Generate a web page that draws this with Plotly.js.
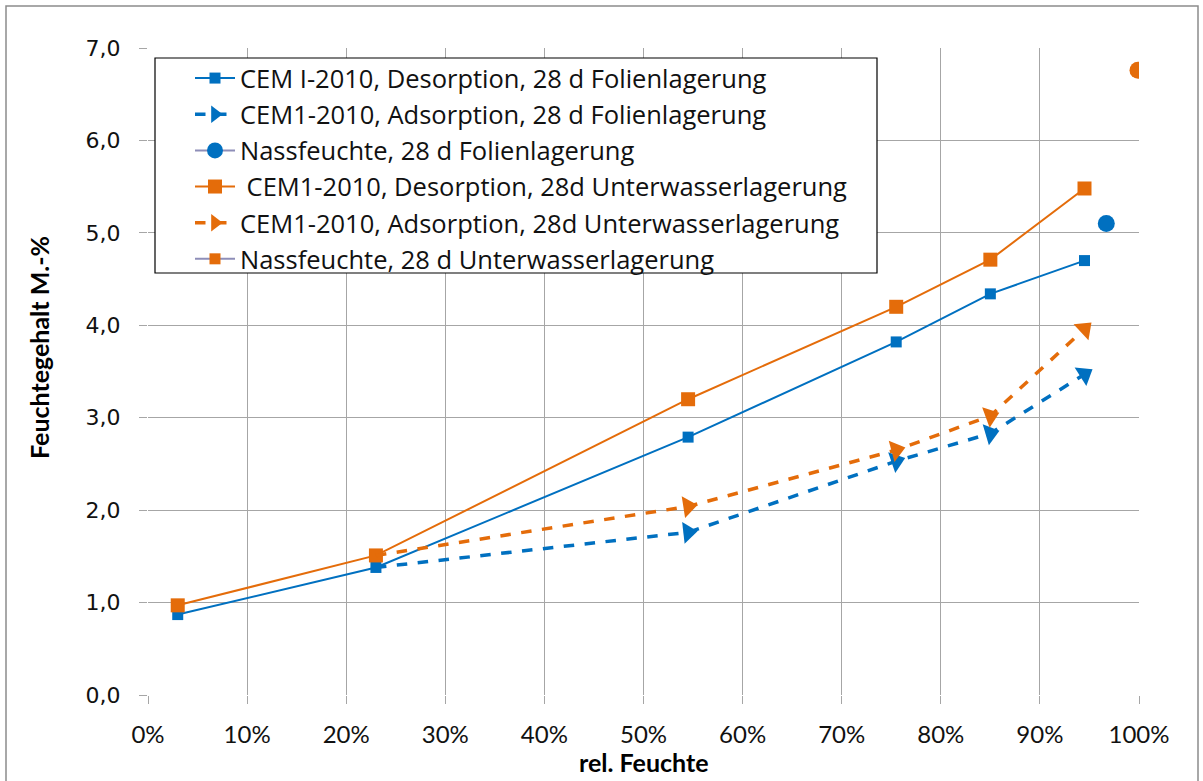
<!DOCTYPE html>
<html>
<head>
<meta charset="utf-8">
<script src="https://cdn.plot.ly/plotly-3.0.1.min.js"></script>
<style>
  html, body { margin: 0; padding: 0; background: #ffffff; }
  #chart { width: 1203px; height: 781px; }
</style>
</head>
<body>
<div id="chart"></div>
<script>
// ---- Data ----
const relHumDes = [0.03, 0.23, 0.545, 0.755, 0.85, 0.945];
const relHumAds = [0.23, 0.545, 0.755, 0.85, 0.945];

const folieDesorption = [0.87, 1.38, 2.79, 3.82, 4.34, 4.70];
const folieAdsorption = [1.38, 1.76, 2.53, 2.83, 3.47];
const wasserDesorption = [0.97, 1.51, 3.20, 4.20, 4.71, 5.48];
const wasserAdsorption = [1.51, 2.04, 2.65, 3.02, 3.96];

const nassFolieX = [0.967];
const nassFolieY = [5.10];
const nassWasserX = [0.999];
const nassWasserY = [6.76];

const seriesNames = [
  "CEM I-2010, Desorption, 28 d Folienlagerung",
  "CEM1-2010, Adsorption, 28 d Folienlagerung",
  "Nassfeuchte, 28 d Folienlagerung",
  " CEM1-2010, Desorption, 28d Unterwasserlagerung",
  "CEM1-2010, Adsorption, 28d Unterwasserlagerung",
  "Nassfeuchte, 28 d Unterwasserlagerung"
];

const yTicks = [0, 1, 2, 3, 4, 5, 6, 7];
const xTicks = [0, 0.1, 0.2, 0.3, 0.4, 0.5, 0.6, 0.7, 0.8, 0.9, 1.0];
const xTitle = "rel. Feuchte";
const yTitle = "Feuchtegehalt M.-%";

// ---- Styles ----
const BLUE = "#0070C0";
const ORANGE = "#E46C0A";
const GRAYLINE = "#8E8EB8";
const FONT = "Lato, 'Open Sans', sans-serif";
const LEGFONT = "'Open Sans', Lato, sans-serif";

const arrowSizes = n => Array.from({length: n}, (_, i) => i === 0 ? 0 : 19);

const traces = [
  {
    name: seriesNames[0], x: relHumDes, y: folieDesorption, type: "scatter", mode: "lines+markers",
    line: {color: BLUE, width: 2}, marker: {symbol: "square", size: 11, color: BLUE},
    legendgroup: "a"
  },
  {
    name: seriesNames[1], x: relHumAds, y: folieAdsorption, type: "scatter", mode: "lines+markers",
    line: {color: BLUE, width: 3.5, dash: "dash"},
    marker: {symbol: "triangle-up", size: arrowSizes(relHumAds.length), color: BLUE,
             opacity: 1, line: {width: 0}, angleref: "previous"},
    legendgroup: "b"
  },
  {
    name: seriesNames[2], x: nassFolieX, y: nassFolieY, type: "scatter", mode: "lines+markers",
    line: {color: GRAYLINE, width: 2}, marker: {symbol: "circle", size: 17, color: BLUE},
    legendgroup: "c"
  },
  {
    name: seriesNames[3], x: relHumDes, y: wasserDesorption, type: "scatter", mode: "lines+markers",
    line: {color: ORANGE, width: 2}, marker: {symbol: "square", size: 14, color: ORANGE},
    legendgroup: "d"
  },
  {
    name: seriesNames[4], x: relHumAds, y: wasserAdsorption, type: "scatter", mode: "lines+markers",
    line: {color: ORANGE, width: 3.5, dash: "dash"},
    marker: {symbol: "triangle-up", size: arrowSizes(relHumAds.length), color: ORANGE,
             opacity: 1, line: {width: 0}, angleref: "previous"},
    legendgroup: "e"
  },
  {
    // legend entry only (square marker as in the reference legend)
    name: seriesNames[5], x: [null], y: [null], type: "scatter", mode: "lines+markers",
    line: {color: GRAYLINE, width: 2}, marker: {symbol: "square", size: 11, color: ORANGE},
    legendgroup: "f"
  },
  {
    name: seriesNames[5], x: nassWasserX, y: nassWasserY, type: "scatter", mode: "markers",
    marker: {symbol: "circle", size: 17, color: ORANGE}, showlegend: false,
    legendgroup: "f"
  }
];

// pixel helpers for paper coordinates (plot area 148..1139 x 48..695)
const PL = 148, PR = 1139, PT = 48, PB = 695;
const px = v => (v - PL) / (PR - PL);
const py = v => (PB - v) / (PB - PT);

const layout = {
  width: 1203, height: 781,
  margin: {l: PL, r: 1203 - PR, t: PT, b: 781 - PB, pad: 0},
  paper_bgcolor: "#ffffff", plot_bgcolor: "#ffffff",
  separators: ",.",
  showlegend: true,
  font: {family: FONT, color: "#000000"},
  xaxis: {
    range: [0, 1], tickvals: xTicks, tickformat: ".0%",
    showgrid: true, gridcolor: "#A6A6A6", gridwidth: 1,
    zeroline: false, showline: false,
    ticks: "outside", ticklen: 8, tickcolor: "#A6A6A6",
    ticklabelstandoff: 10,
    tickfont: {family: FONT, size: 24, color: "#111111"},
    fixedrange: true
  },
  yaxis: {
    range: [0, 7], tickvals: yTicks, tickformat: ".1f",
    showgrid: true, gridcolor: "#A6A6A6", gridwidth: 1,
    zeroline: false, showline: false,
    ticks: "outside", ticklen: 8, tickcolor: "#A6A6A6",
    ticklabelstandoff: 14,
    tickfont: {family: "DejaVu Sans, Verdana, sans-serif", size: 22, color: "#111111"},
    fixedrange: true
  },
  legend: {
    x: px(190), y: py(55), xanchor: "left", yanchor: "top",
    bgcolor: "rgba(0,0,0,0)", borderwidth: 0,
    font: {family: LEGFONT, size: 25.5, color: "#111111"},
    tracegroupgap: 0, itemwidth: 40
  },
  annotations: [
    {text: "<b>" + xTitle + "</b>", xref: "paper", yref: "paper", x: px(644), y: py(762),
     xanchor: "center", yanchor: "middle", showarrow: false,
     font: {family: FONT, size: 25, color: "#000000"}},
    {text: "<b>" + yTitle + "</b>", xref: "paper", yref: "paper", x: px(39), y: py(348),
     xanchor: "center", yanchor: "middle", showarrow: false, textangle: -90,
     font: {family: FONT, size: 25, color: "#000000"}}
  ],
  shapes: [
    {type: "rect", xref: "paper", yref: "paper", x0: px(155), x1: px(877), y0: py(273), y1: py(58),
     line: {color: "#000000", width: 1.2}, fillcolor: "#ffffff", layer: "above"},
    {type: "rect", xref: "paper", yref: "paper", x0: px(6), x1: px(1198), y0: py(800), y1: py(6),
     line: {color: "#8C8C8C", width: 1.5}, fillcolor: "rgba(0,0,0,0)", layer: "below"}
  ]
};

Plotly.newPlot("chart", traces, layout, {displayModeBar: false, staticPlot: true});
</script>
</body>
</html>
